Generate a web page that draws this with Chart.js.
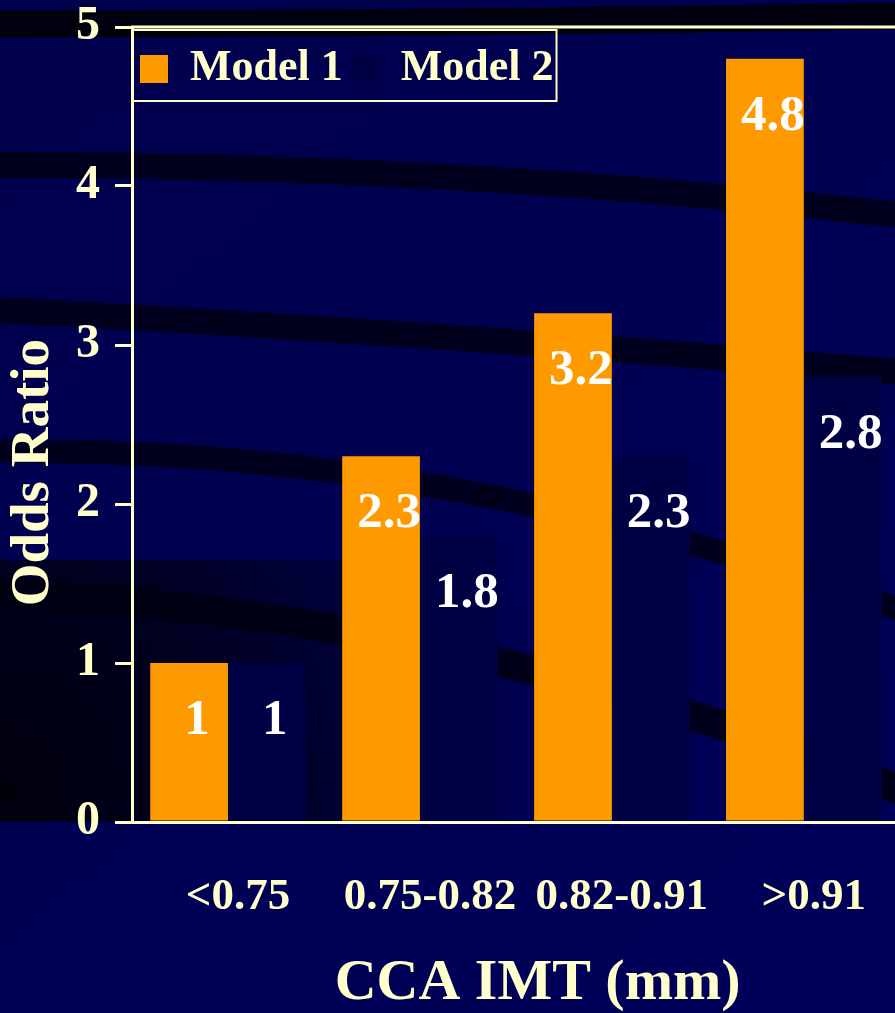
<!DOCTYPE html>
<html>
<head>
<meta charset="utf-8">
<title>Odds Ratio by CCA IMT</title>
<script src="https://cdn.jsdelivr.net/npm/chart.js@4/dist/chart.umd.min.js"></script>
<style>
  html { margin: 0; padding: 0; background: #000050; overflow: hidden; }
  body { margin: 0; padding: 0; width: 904px; height: 1013px; overflow: hidden; }
  canvas { display: block; width: 904px; height: 1013px; }
</style>
</head>
<body>
<canvas id="chart" width="904" height="1013"></canvas>
<script>
// Data
const categories = ['<0.75', '0.75-0.82', '0.82-0.91', '>0.91'];
const model1 = [1, 2.3, 3.2, 4.8];
const model2 = [1, 1.8, 2.3, 2.8];
const seriesNames = ['Model 1', 'Model 2'];
const yTicks = [0, 1, 2, 3, 4, 5];

// Styling
const CREAM = '#ffffcc';
const ORANGE = '#ff9900';
const NAVY_BAR = '#000044';
const SERIF = '"Liberation Serif", "Times New Roman", serif';

// Slide-style backdrop: navy field with dark sweeping bands
const backdrop = {
  id: 'backdrop',
  beforeDraw(chart) {
    const { ctx, width, height, chartArea } = chart;
    ctx.save();
    const g = ctx.createLinearGradient(0, 0, width, height);
    g.addColorStop(0, '#00004c');
    g.addColorStop(1, '#00005a');
    ctx.fillStyle = g;
    ctx.fillRect(0, 0, width, height);

    const shade = ctx.createRadialGradient(0, 790, 0, 0, 790, 560);
    shade.addColorStop(0, 'rgba(0,0,8,0.95)');
    shade.addColorStop(0.45, 'rgba(0,0,14,0.7)');
    shade.addColorStop(1, 'rgba(0,0,20,0)');
    ctx.fillStyle = shade;
    ctx.fillRect(0, 560, width, chartArea.bottom - 560);

    // [x0, y0, cx, cy, x1, y1, width, colour]
    const bands = [
      [0, 24, 450, 24, 900, 16, 27, 'rgba(0,0,12,0.95)'],
      [0, 165, 450, 164, 900, 215, 26, 'rgba(0,0,24,0.9)'],
      [0, 310, 450, 334, 900, 372, 26, 'rgba(0,0,24,0.9)'],
      [0, 451, 450, 447, 900, 610, 24, 'rgba(0,0,24,0.9)'],
      [0, 594, 450, 610, 900, 790, 30, 'rgba(0,0,18,0.85)']
    ];
    ctx.save();
    ctx.beginPath();
    ctx.rect(0, 0, width, chartArea.bottom);
    ctx.clip();
    bands.forEach(b => {
      ctx.strokeStyle = b[7];
      ctx.lineWidth = b[6];
      ctx.beginPath();
      ctx.moveTo(b[0], b[1]);
      ctx.quadraticCurveTo(b[2], b[3], b[4], b[5]);
      ctx.stroke();
    });
    ctx.restore();
    ctx.restore();
  }
};

// Lay the legend out as a single row anchored to the plot area's top-left corner
const legendRow = {
  id: 'legendRow',
  beforeLayout(chart) {
    if (chart.legend) chart.legend.isHorizontal = () => true;
  },
  afterLayout(chart) {
    const legend = chart.legend;
    if (!legend) return;
    const dx = chart.chartArea.left - legend.left;
    legend.left += dx;
    legend.right = chart.chartArea.right;
    legend.legendHitBoxes.forEach(h => { h.left += dx; });
  }
};

// Value labels inside the bars
const valueLabels = {
  id: 'valueLabels',
  afterDatasetsDraw(chart) {
    const ctx = chart.ctx;
    ctx.save();
    ctx.font = 'bold 51px ' + SERIF;
    ctx.fillStyle = '#ffffff';
    ctx.textAlign = 'center';
    ctx.textBaseline = 'middle';
    chart.data.datasets.forEach((ds, i) => {
      chart.getDatasetMeta(i).data.forEach((bar, j) => {
        ctx.fillText(String(ds.data[j]), bar.x + 8, bar.y + 58);
      });
    });
    ctx.restore();
  }
};

// Plot frame top edge and legend box outline
const frames = {
  id: 'frames',
  afterDraw(chart) {
    const { ctx, chartArea, legend } = chart;
    ctx.save();
    ctx.strokeStyle = CREAM;
    ctx.lineWidth = 3;
    ctx.beginPath();
    ctx.moveTo(chartArea.left - 1, chartArea.top);
    ctx.lineTo(chartArea.right, chartArea.top);
    ctx.stroke();
    const boxes = legend.legendHitBoxes;
    const last = boxes[boxes.length - 1];
    ctx.lineWidth = 2;
    ctx.strokeRect(chartArea.left, chartArea.top + 3, last.left + last.width + 3 - chartArea.left, 71);
    ctx.restore();
  }
};

new Chart(document.getElementById('chart'), {
  type: 'bar',
  data: {
    labels: categories,
    datasets: [
      { label: seriesNames[0], data: model1, backgroundColor: ORANGE, borderWidth: 0 },
      { label: seriesNames[1], data: model2, backgroundColor: NAVY_BAR, borderWidth: 0 }
    ]
  },
  options: {
    responsive: false,
    maintainAspectRatio: false,
    animation: false,
    devicePixelRatio: 1,
    layout: { padding: { top: 27, left: 0, right: 0, bottom: 0 } },
    datasets: { bar: { categoryPercentage: 0.81, barPercentage: 1.0 } },
    plugins: {
      tooltip: { enabled: false },
      legend: {
        position: 'chartArea',
        align: 'start',
        title: { display: true, text: '', font: { size: 1, lineHeight: 1 }, padding: { top: 11, bottom: 0 } },
        labels: {
          color: CREAM,
          font: { family: SERIF, size: 44, weight: 'bold' },
          boxWidth: 28,
          boxHeight: 28,
          padding: 8
        }
      }
    },
    scales: {
      x: {
        grid: { display: false, drawTicks: false },
        border: { display: true, color: CREAM, width: 3 },
        ticks: {
          color: CREAM,
          font: { family: SERIF, size: 45, weight: 'bold' },
          padding: 48,
          labelOffset: 10,
          maxRotation: 0,
          autoSkip: false
        },
        title: {
          display: true,
          text: '   CCA IMT (mm)',
          color: CREAM,
          font: { family: SERIF, size: 58, weight: 'bold', lineHeight: 1 },
          padding: { top: 0, bottom: 0 }
        },
        afterFit(scale) { scale.height = 191; }
      },
      y: {
        min: yTicks[0],
        max: yTicks[yTicks.length - 1],
        grid: { drawOnChartArea: false, drawTicks: true, tickLength: 17, color: CREAM, lineWidth: 3 },
        border: { display: true, color: CREAM, width: 3 },
        ticks: {
          stepSize: 1,
          color: CREAM,
          padding: 15,
          font: { family: SERIF, size: 48, weight: 'bold', lineHeight: 0.2 }
        },
        title: {
          display: true,
          text: 'Odds Ratio       ',
          color: CREAM,
          font: { family: SERIF, size: 55, weight: 'bold', lineHeight: 1 },
          padding: { top: 6, bottom: 0 }
        },
        afterFit(scale) { scale.width = 132; }
      }
    }
  },
  plugins: [backdrop, legendRow, valueLabels, frames]
});
</script>
</body>
</html>
